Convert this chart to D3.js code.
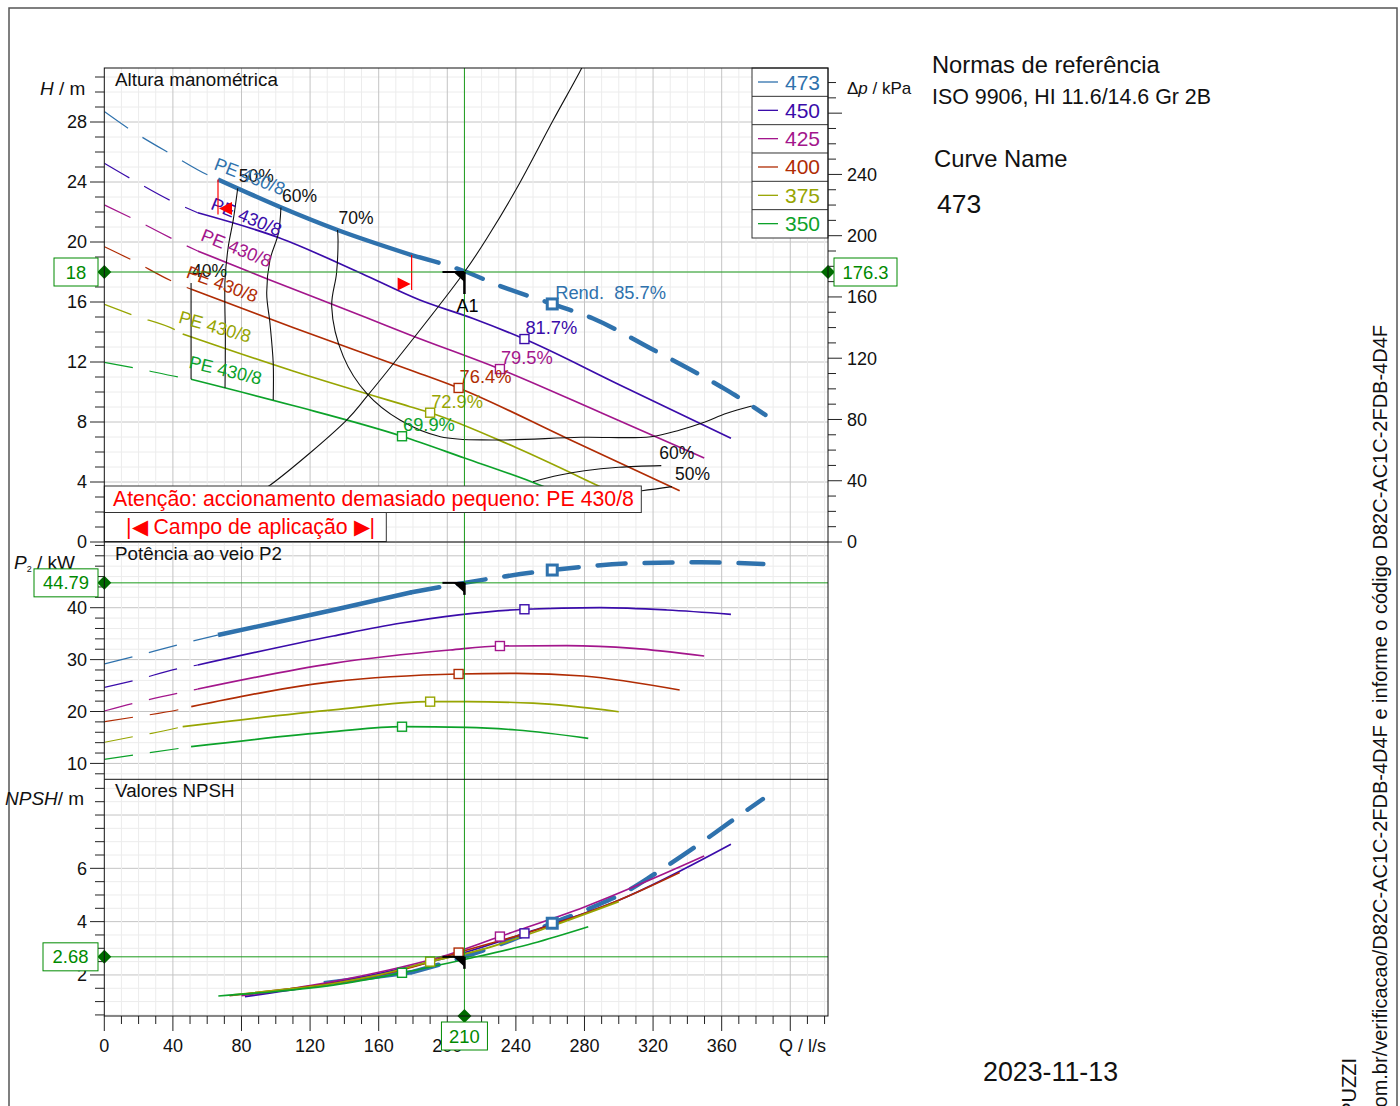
<!DOCTYPE html>
<html>
<head>
<meta charset="utf-8">
<script src="https://cdnjs.cloudflare.com/ajax/libs/d3/7.8.5/d3.min.js"></script>
<style>
  body { margin: 0; background: #fff; }
  svg text { font-family: "Liberation Sans", Arial, sans-serif; }
</style>
</head>
<body>
<div id="graf"></div>
<script>
// ---- dados ----
const diametros = ['473', '450', '425', '400', '375', '350']
const qRend = [261.2, 245, 230.7, 206.6, 190, 173.6]
const rend = [85.7, 81.7, 79.5, 76.4, 72.9, 69.9]
const qInicio = [66.3, 54.5, 54.5, 50.7, 45.7, 50.6]
const qLimite473 = [66.3, 179.2]

// altura manométrica H / m
const qH473 = [0, 14.6, 38.7, 62.6, 66.3, 103.2, 136, 179.2, 210, 230.7, 261.2, 285, 318.7, 359.6, 367.7, 385.5]
const H473 = [28.7, 27.53, 25.87, 24.35, 24.17, 22.3, 20.8, 19.13, 18.05, 17.07, 15.87, 14.9, 12.9, 10.35, 9.8, 8.47]
const qH450 = [0, 15, 39.9, 54.5, 101.5, 150, 184, 215, 245, 300, 365.4]
const H450 = [25.25, 24.25, 22.69, 21.95, 20.3, 17.9, 16.13, 14.9, 13.53, 10.5, 6.91]
const qH425 = [0, 15.6, 49, 54.5, 96.6, 153, 178.3, 230.7, 290, 349.8]
const H425 = [22.47, 21.62, 19.69, 19.4, 17.47, 14.95, 13.8, 11.53, 8.6, 5.6]
const qH400 = [0, 16, 40.2, 50.7, 110, 178.3, 206.6, 270, 335.5]
const H400 = [19.69, 18.8, 17.35, 16.85, 14.3, 11.47, 10.27, 6.9, 3.42]
const qH375 = [0, 16.5, 42.6, 45.7, 110, 178.3, 190, 240, 288, 300]
const H375 = [15.85, 15.13, 14.07, 13.87, 11.4, 9.02, 8.62, 6.3, 3.75, 3.1]
const qH350 = [0, 16.9, 44.1, 50.6, 110, 173.6, 210, 249, 282]
const H350 = [11.98, 11.62, 10.98, 10.85, 9.1, 7.05, 5.6, 4.02, 2.5]

// potência ao veio P2 / kW
const qP473 = [0, 16.9, 44.1, 66.3, 133.5, 179.2, 210, 261.2, 308.5, 347.3, 384.3]
const P473 = [29.15, 30.56, 32.95, 34.74, 39.56, 42.97, 44.79, 47.26, 48.55, 48.74, 48.42]
const qP450 = [0, 16.9, 44.1, 54.5, 133.5, 172.4, 245, 289, 328, 365.4]
const P450 = [24.66, 25.94, 28.32, 28.96, 34.55, 37.0, 39.7, 40.0, 39.56, 38.73]
const qP425 = [0, 16.9, 44.1, 54.5, 133.5, 201.6, 230.7, 269.6, 308.5, 349.8]
const P425 = [20.1, 21.58, 23.62, 24.33, 29.29, 31.85, 32.62, 32.68, 32.18, 30.7]
const qP400 = [0, 16.9, 45.1, 50.7, 133.5, 206.6, 240.5, 279.3, 335.5]
const P400 = [18.03, 18.9, 20.48, 20.93, 25.75, 27.23, 27.36, 26.84, 24.14]
const qP375 = [0, 16.9, 27.6, 45.7, 133.5, 190, 211.3, 250, 300]
const P375 = [14.06, 15.15, 15.8, 17.07, 20.3, 21.9, 21.9, 21.6, 19.96]
const qP350 = [0, 16.9, 27.6, 50.6, 133.5, 173.6, 211.3, 240.5, 282.2]
const P350 = [10.79, 11.62, 12.14, 13.22, 16.11, 17.07, 16.95, 16.44, 14.84]

// valores NPSH / m
const qN473 = [128, 179.2, 210, 232.6, 261.2, 285, 305, 320, 342, 365, 384]
const N473 = [1.69, 2.1, 2.68, 3.19, 3.94, 4.55, 5.15, 5.75, 6.69, 7.74, 8.6]
const qN450 = [82, 120, 160, 200, 245, 300, 365.4]
const N450 = [1.19, 1.55, 2.05, 2.65, 3.56, 4.8, 6.9]
const qN425 = [80, 120, 160, 200, 230.7, 280, 349.8]
const N425 = [1.22, 1.6, 2.1, 2.75, 3.44, 4.55, 6.46]
const qN400 = [73, 100, 140, 180, 206.6, 250, 300, 335.5]
const N400 = [1.22, 1.42, 1.75, 2.3, 2.84, 3.65, 4.8, 5.84]
const qN375 = [75, 100, 133.5, 160, 190, 220, 260, 300]
const N375 = [1.25, 1.42, 1.68, 2.0, 2.5, 2.95, 3.81, 4.75]
const qN350 = [66.5, 100, 133.5, 173.6, 211.3, 250, 282.2]
const N350 = [1.21, 1.38, 1.62, 2.08, 2.6, 3.19, 3.81]

// linhas de rendimento (Q, H)
const rendRotulos = ['40%', '50%', '60%', '70%', '60%', '50%']
const qR40 = [50.6, 50.6]
const hR40 = [17.27, 10.85]
const qR50 = [77.8, 75.2, 72.3, 70.4, 70.6, 70.4]
const hR50 = [23.58, 21.47, 19.69, 17.47, 13.47, 10.29]
const qR60 = [103, 101.5, 96.6, 94.7, 96.6, 98.5, 98.5]
const hR60 = [22.3, 20.58, 18.8, 16.58, 14.58, 11.91, 9.47]
const qR70 = [136, 136.3, 135.4, 132.6, 139.4, 153, 172.4, 196, 226.6, 277.8, 318.8, 335.7, 349, 363, 377.5]
const hR70 = [20.8, 20.13, 17.9, 15.69, 12.36, 9.91, 8.13, 7.02, 6.8, 6.98, 7.02, 7.47, 7.95, 8.58, 9.07]
const qR60b = [250, 265, 280, 300, 324.8]
const hR60b = [4.02, 4.45, 4.75, 4.98, 5.09]
const qR50b = [290, 313.5, 331]
const hR50b = [3.2, 3.42, 3.69]

// curva do sistema
const qSis = [85, 96.8, 141.3, 153, 210, 224.9, 240.5, 261.8, 278.4, 282]
const hSis = [2.95, 3.8, 8.13, 9.69, 18, 20.58, 23.58, 28.13, 31.6, 32.5]

// ponto de funcionamento A1
const qA1 = 210
const hA1 = 18
const pA1 = 44.79
const nA1 = 2.68
const kpaA1 = 176.3

const xTicks = [0, 40, 80, 120, 160, 200, 240, 280, 320, 360]
const hTicks = [0, 4, 8, 12, 16, 20, 24, 28]
const kpaTicks = [0, 40, 80, 120, 160, 200, 240]
const pTicks = [10, 20, 30, 40]
const nTicks = [2, 4, 6]

// ---- estilo ----
const cores = ['#2f72ad', '#3a0caa', '#a3168c', '#b02c04', '#97a502', '#0ca22a']
const verde = '#008a00'
const verdeEsc = '#006b00'
// posição / inclinação dos rótulos "PE 430/8" (px, graus)
const peDx = [-5, 12, 2, -6, -5, -3]
const peDy = [-10.5, -4, -11, -12, -11.5, -11.6]
const peAng = [21, 22, 22, 20, 16, 13.5]

const altura = [[qH473, H473], [qH450, H450], [qH425, H425], [qH400, H400], [qH375, H375], [qH350, H350]]
const potencia = [[qP473, P473], [qP450, P450], [qP425, P425], [qP400, P400], [qP375, P375], [qP350, P350]]
const npsh = [[qN473, N473], [qN450, N450], [qN425, N425], [qN400, N400], [qN375, N375], [qN350, N350]]

const svg = d3.select('#graf').append('svg').attr('width', 1400).attr('height', 1106)

const x = d3.scaleLinear().domain([0, 422]).range([104.3, 828])
const yH = d3.scaleLinear().domain([0, 31.6]).range([542, 68])
const yK = d3.scaleLinear().domain([0, 31.6 * 9.794]).range([542, 68])
const yP = d3.scaleLinear().domain([6.94, 52.66]).range([779.3, 542])
const yN = d3.scaleLinear().domain([0.46, 9.34]).range([1016, 779.3])

const paineis = [
  { nome: 'h', y: yH, top: 68, bot: 542, menor: 1, maior: 4 },
  { nome: 'p', y: yP, top: 542, bot: 779.3, menor: 2, maior: 10 },
  { nome: 'n', y: yN, top: 779.3, bot: 1016, menor: 0.5, maior: 2 }
]

// moldura exterior
svg.append('rect').attr('x', 9).attr('y', 8).attr('width', 1388).attr('height', 1200)
  .attr('fill', 'none').attr('stroke', '#555').attr('stroke-width', 1.5)

const defs = svg.append('defs')
paineis.forEach(p => {
  defs.append('clipPath').attr('id', 'clip-' + p.nome).append('rect')
    .attr('x', x(0)).attr('y', p.top).attr('width', x.range()[1] - x(0)).attr('height', p.bot - p.top)
})

// ---- grelha ----
const grade = svg.append('g')
const qMenor = d3.range(0, 421, 10)
paineis.forEach(p => {
  const d = p.y.domain()
  const vals = d3.range(Math.ceil(d[0] / p.menor) * p.menor, d[1], p.menor)
  vals.forEach(v => {
    const maior = Math.abs(v / p.maior - Math.round(v / p.maior)) < 1e-6
    grade.append('line').attr('x1', x(0)).attr('x2', x.range()[1])
      .attr('y1', p.y(v)).attr('y2', p.y(v))
      .attr('stroke', maior ? '#c4c4c4' : '#ececec').attr('stroke-width', 1)
  })
  qMenor.forEach(q => {
    if (q === 0) return
    grade.append('line').attr('x1', x(q)).attr('x2', x(q))
      .attr('y1', p.top).attr('y2', p.bot)
      .attr('stroke', q % 40 === 0 ? '#c4c4c4' : '#ececec').attr('stroke-width', 1)
  })
})

// ---- eixos ----
const eixos = svg.append('g').attr('font-size', 18).attr('fill', '#111')
function eixoEsq(p, rotulos) {
  const d = p.y.domain()
  d3.range(Math.ceil(d[0] / p.menor) * p.menor, d[1], p.menor).forEach(v => {
    const maior = rotulos.some(r => Math.abs(r - v) < 1e-6)
    eixos.append('line').attr('x1', maior ? 90 : 95).attr('x2', x(0))
      .attr('y1', p.y(v)).attr('y2', p.y(v)).attr('stroke', '#222')
  })
  rotulos.forEach(v => {
    eixos.append('text').attr('x', 87).attr('y', p.y(v)).attr('dy', '0.35em')
      .attr('text-anchor', 'end').text(v)
  })
}
eixoEsq(paineis[0], hTicks)
eixoEsq(paineis[1], pTicks)
eixoEsq(paineis[2], nTicks)

// eixo direito Δp
d3.range(0, yK.domain()[1], 10).forEach(v => {
  const maior = v % 40 === 0
  eixos.append('line').attr('x1', x.range()[1]).attr('x2', x.range()[1] + (maior ? 14 : 8))
    .attr('y1', yK(v)).attr('y2', yK(v)).attr('stroke', '#222')
})
kpaTicks.forEach(v => {
  eixos.append('text').attr('x', 847).attr('y', yK(v)).attr('dy', '0.35em').text(v)
})

// eixo inferior Q
qMenor.forEach(q => {
  const maior = q % 40 === 0
  eixos.append('line').attr('x1', x(q)).attr('x2', x(q))
    .attr('y1', 1016).attr('y2', 1016 + (maior ? 15 : 8)).attr('stroke', '#222')
})
xTicks.forEach(q => {
  eixos.append('text').attr('x', x(q)).attr('y', 1052).attr('text-anchor', 'middle').text(q)
})
eixos.append('text').attr('x', 826).attr('y', 1052).attr('text-anchor', 'end').text('Q / l/s')

// títulos dos eixos
const tH = eixos.append('text').attr('x', 40).attr('y', 95).attr('font-size', 19)
tH.append('tspan').attr('font-style', 'italic').text('H')
tH.append('tspan').text(' / m')
const tK = eixos.append('text').attr('x', 847).attr('y', 94).attr('font-size', 17)
tK.append('tspan').text('Δ')
tK.append('tspan').attr('font-style', 'italic').text('p')
tK.append('tspan').text(' / kPa')
const tP = eixos.append('text').attr('x', 14).attr('y', 569).attr('font-size', 19)
tP.append('tspan').attr('font-style', 'italic').text('P')
tP.append('tspan').attr('font-size', 9).attr('dy', 3).text('2')
tP.append('tspan').attr('dy', -3).text(' / kW')
const tN = eixos.append('text').attr('x', 5).attr('y', 805).attr('font-size', 19)
tN.append('tspan').attr('font-style', 'italic').text('NPSH')
tN.append('tspan').text('/ m')

eixos.append('text').attr('x', 115).attr('y', 86).attr('font-size', 18.8).text('Altura manométrica')
eixos.append('text').attr('x', 115).attr('y', 560).attr('font-size', 18.8).text('Potência ao veio P2')
eixos.append('text').attr('x', 115).attr('y', 797).attr('font-size', 18.8).text('Valores NPSH')

// ---- curvas ----
function trecho(qs, vs, q0, q1) {
  const r = []
  qs.forEach((q, i) => { if (q >= q0 - 1e-9 && q <= q1 + 1e-9) r.push([q, vs[i]]) })
  return r
}
function desenhaFamilia(dados, ys, clip, comTracejado) {
  const g = svg.append('g').attr('clip-path', `url(#clip-${clip})`)
  const linha = d3.line().x(d => x(d[0])).y(d => ys(d[1])).curve(d3.curveMonotoneX)
  dados.forEach((c, i) => {
    const [qs, vs] = c
    const cor = cores[i]
    if (i === 0) {
      if (comTracejado) {
        g.append('path').attr('d', linha(trecho(qs, vs, 0, qLimite473[0])))
          .attr('fill', 'none').attr('stroke', cor).attr('stroke-width', 1.2).attr('stroke-dasharray', '29,17')
      }
      g.append('path').attr('d', linha(trecho(qs, vs, qLimite473[0], qLimite473[1])))
        .attr('fill', 'none').attr('stroke', cor).attr('stroke-width', 4.5)
      g.append('path').attr('d', linha(trecho(qs, vs, qLimite473[1], 1000)))
        .attr('fill', 'none').attr('stroke', cor).attr('stroke-width', 4.5)
        .attr('stroke-linecap', 'round').attr('stroke-dasharray', '28,19')
    } else {
      if (comTracejado) {
        g.append('path').attr('d', linha(trecho(qs, vs, 0, qInicio[i])))
          .attr('fill', 'none').attr('stroke', cor).attr('stroke-width', 1.2).attr('stroke-dasharray', '29,17')
        g.append('path').attr('d', linha(trecho(qs, vs, qInicio[i], 1000)))
          .attr('fill', 'none').attr('stroke', cor).attr('stroke-width', 1.7)
      } else {
        g.append('path').attr('d', linha(qs.map((q, k) => [q, vs[k]])))
          .attr('fill', 'none').attr('stroke', cor).attr('stroke-width', 1.7)
      }
    }
  })
  return g
}
desenhaFamilia(altura, yH, 'h', true)
desenhaFamilia(potencia, yP, 'p', true)
desenhaFamilia(npsh, yN, 'n', false)

// linhas de rendimento e curva do sistema
const gR = svg.append('g').attr('clip-path', 'url(#clip-h)')
const linhaR = d3.line().x(d => x(d[0])).y(d => yH(d[1])).curve(d3.curveCatmullRom)
const isos = [[qR40, hR40], [qR50, hR50], [qR60, hR60], [qR70, hR70], [qR60b, hR60b], [qR50b, hR50b]]
isos.forEach(c => {
  gR.append('path').attr('d', linhaR(c[0].map((q, k) => [q, c[1][k]])))
    .attr('fill', 'none').attr('stroke', '#111').attr('stroke-width', 1.1)
})
gR.append('path').attr('d', linhaR(qSis.map((q, k) => [q, hSis[k]])))
  .attr('fill', 'none').attr('stroke', '#111').attr('stroke-width', 1.1)

// rótulos das linhas de rendimento
const rotR = svg.append('g').attr('font-size', 17.5).attr('fill', '#111')
;[0, 1, 2, 3].forEach(i => {
  const c = isos[i]
  rotR.append('text').attr('x', x(c[0][0]) + 1).attr('y', yH(c[1][0]) - 6).text(rendRotulos[i])
})
;[4, 5].forEach(i => {
  const c = isos[i]
  const n = c[0].length - 1
  rotR.append('text').attr('x', x(c[0][n]) + (i === 4 ? -2 : 3)).attr('y', yH(c[1][n]) - 7).text(rendRotulos[i])
})

// rótulos PE 430/8 ao longo das curvas
const gPE = svg.append('g').attr('font-size', 18)
altura.forEach((c, i) => {
  const [qs, vs] = c
  const k = qs.indexOf(qInicio[i])
  const x1 = x(qs[k]) + peDx[i], y1 = yH(vs[k]) + peDy[i]
  gPE.append('text').attr('fill', cores[i])
    .attr('transform', `translate(${x1},${y1}) rotate(${peAng[i]})`)
    .text('PE 430/8')
})

// quadrados de melhor rendimento
const gQ = svg.append('g')
;[[altura, yH], [potencia, yP], [npsh, yN]].forEach(([dados, ys]) => {
  dados.forEach((c, i) => {
    const k = c[0].indexOf(qRend[i])
    const s = i === 0 ? 10 : 9
    gQ.append('rect').attr('x', x(c[0][k]) - s / 2).attr('y', ys(c[1][k]) - s / 2)
      .attr('width', s).attr('height', s).attr('fill', '#fff')
      .attr('stroke', cores[i]).attr('stroke-width', i === 0 ? 3 : 1.4)
  })
})
altura.forEach((c, i) => {
  const k = c[0].indexOf(qRend[i])
  gQ.append('text').attr('x', x(c[0][k]) + (i === 0 ? 3 : 1)).attr('y', yH(c[1][k]) - 5)
    .attr('font-size', 18.3).attr('fill', cores[i])
    .text(i === 0 ? 'Rend.\u00a0\u00a0' + rend[i] + '%' : rend[i] + '%')
})

// limites do campo de aplicação na curva 473
const gLim = svg.append('g')
qLimite473.forEach((q, j) => {
  const k = qH473.indexOf(q)
  const px = x(q), py = yH(H473[k])
  gLim.append('line').attr('x1', px).attr('x2', px).attr('y1', py).attr('y2', py + 35)
    .attr('stroke', '#f00').attr('stroke-width', 1.2)
  const s = j === 0 ? 1 : -1
  gLim.append('path')
    .attr('d', `M${px + s},${py + 29} L${px + s * 14},${py + 22.5} L${px + s * 14},${py + 35.5} Z`)
    .attr('fill', '#f00')
})

// ---- ponto de funcionamento ----
const gV = svg.append('g')
gV.append('line').attr('x1', x(qA1)).attr('x2', x(qA1)).attr('y1', 68).attr('y2', 1016)
  .attr('stroke', '#1a9a1a').attr('stroke-width', 1)
;[yH(hA1), yP(pA1), yN(nA1)].forEach(yy => {
  gV.append('line').attr('x1', x(0)).attr('x2', x.range()[1]).attr('y1', yy).attr('y2', yy)
    .attr('stroke', '#1a9a1a').attr('stroke-width', 1)
})

// caixas de aviso
const gAv = svg.append('g').attr('font-size', 21.3).attr('fill', '#f00')
gAv.append('rect').attr('x', x(0)).attr('y', 486).attr('width', 537).attr('height', 26.5)
  .attr('fill', '#fff').attr('stroke', '#333')
gAv.append('text').attr('x', 113).attr('y', 506).text('Atenção: accionamento demasiado pequeno: PE 430/8')
gAv.append('rect').attr('x', x(0)).attr('y', 512.5).attr('width', 282).attr('height', 29)
  .attr('fill', '#fff').attr('stroke', '#333')
gAv.append('text').attr('x', 126).attr('y', 534).text('|◀ Campo de aplicação ▶|')

// marcadores A1
const gA = svg.append('g')
;[[yH(hA1), 22], [yP(pA1), 12], [yN(nA1), 12]].forEach(([yy, comp]) => {
  const px = x(qA1)
  gA.append('line').attr('x1', px - 22).attr('x2', px).attr('y1', yy).attr('y2', yy)
    .attr('stroke', '#000').attr('stroke-width', 2)
  gA.append('path').attr('d', `M${px - 11},${yy} L${px},${yy} L${px},${yy + 10} Z`).attr('fill', '#000')
  gA.append('line').attr('x1', px).attr('x2', px).attr('y1', yy).attr('y2', yy + comp)
    .attr('stroke', '#000').attr('stroke-width', 2.5)
})
gA.append('text').attr('x', x(qA1) - 8).attr('y', yH(hA1) + 40).attr('font-size', 18).text('A1')

// caixas verdes com valores
function losango(px, py) {
  gA.append('path').attr('d', `M${px - 7},${py} L${px},${py - 7} L${px + 7},${py} L${px},${py + 7} Z`)
    .attr('fill', verdeEsc)
}
function caixa(x0, y0, w, txt) {
  gA.append('rect').attr('x', x0).attr('y', y0).attr('width', w).attr('height', 28)
    .attr('fill', '#fff').attr('stroke', verde).attr('stroke-width', 1)
  gA.append('text').attr('x', x0 + w / 2).attr('y', y0 + 20.5).attr('text-anchor', 'middle')
    .attr('font-size', 18.4).attr('fill', verde).text(txt)
}
losango(x(0), yH(hA1)); caixa(54, yH(hA1) - 14, 44, hA1)
losango(x.range()[1], yH(hA1)); caixa(834, yH(hA1) - 14, 63, kpaA1)
losango(x(0), yP(pA1)); caixa(34, yP(pA1) - 14, 64, pA1)
losango(x(0), yN(nA1)); caixa(43, yN(nA1) - 14, 55, nA1)
losango(x(qA1), 1016); caixa(x(qA1) - 23, 1022, 46, qA1)

// ---- legenda ----
const gL = svg.append('g')
gL.append('rect').attr('x', 752).attr('y', 68).attr('width', 76).attr('height', 170)
  .attr('fill', '#fff').attr('stroke', '#333')
diametros.forEach((d, i) => {
  const yy = 68 + i * 28.33
  if (i > 0) gL.append('line').attr('x1', 752).attr('x2', 828).attr('y1', yy).attr('y2', yy).attr('stroke', '#333')
  gL.append('line').attr('x1', 758).attr('x2', 778).attr('y1', yy + 14).attr('y2', yy + 14)
    .attr('stroke', cores[i]).attr('stroke-width', 1.3)
  gL.append('text').attr('x', 785).attr('y', yy + 21.5).attr('font-size', 21).attr('fill', cores[i]).text(d)
})

// bordas dos painéis
const gB = svg.append('g').attr('stroke', '#111').attr('fill', 'none')
gB.append('rect').attr('x', x(0)).attr('y', 68).attr('width', x.range()[1] - x(0)).attr('height', 1016 - 68)
gB.append('line').attr('x1', x(0)).attr('x2', x.range()[1]).attr('y1', 542).attr('y2', 542)
gB.append('line').attr('x1', x(0)).attr('x2', x.range()[1]).attr('y1', 779.3).attr('y2', 779.3)

// ---- textos laterais ----
const gT = svg.append('g').attr('fill', '#111')
gT.append('text').attr('x', 932).attr('y', 73).attr('font-size', 23.7).text('Normas de referência')
gT.append('text').attr('x', 932).attr('y', 104).attr('font-size', 21.4).text('ISO 9906, HI 11.6/14.6 Gr 2B')
gT.append('text').attr('x', 934).attr('y', 167).attr('font-size', 23.8).text('Curve Name')
gT.append('text').attr('x', 937).attr('y', 213).attr('font-size', 26.5).text('473')
gT.append('text').attr('x', 983).attr('y', 1081).attr('font-size', 26.8).text('2023-11-13')
gT.append('text').attr('transform', 'translate(1387,325) rotate(-90)').attr('text-anchor', 'end')
  .attr('font-size', 20).text('om.br/verificacao/D82C-AC1C-2FDB-4D4F e informe o código D82C-AC1C-2FDB-4D4F')
gT.append('text').attr('transform', 'translate(1356,1058) rotate(-90)').attr('text-anchor', 'end')
  .attr('font-size', 20).text('PUZZI')
</script>
</body>
</html>
